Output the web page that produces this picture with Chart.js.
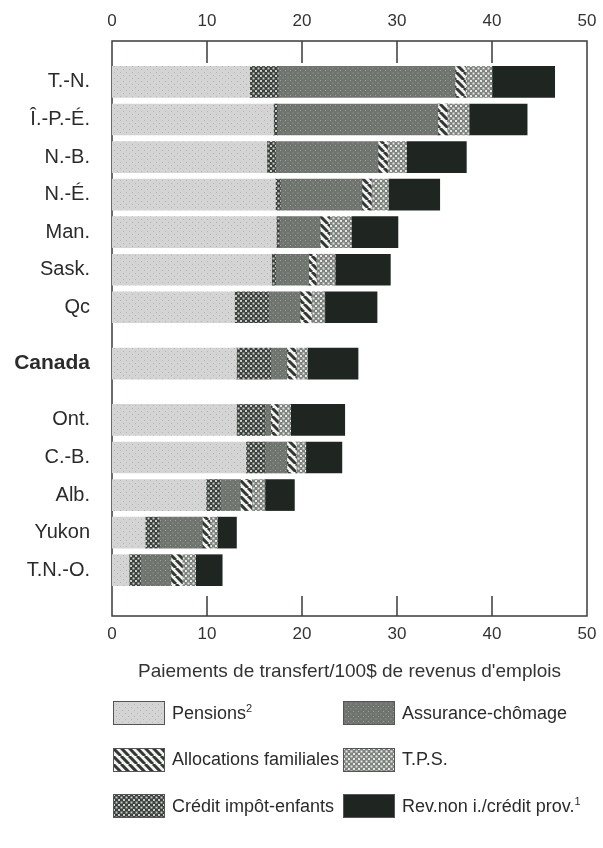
<!DOCTYPE html>
<html>
<head>
<meta charset="utf-8">
<script src="https://cdn.jsdelivr.net/npm/chart.js@4/dist/chart.umd.min.js"></script>
<style>
  body { margin: 0; background: #fff; font-family: "Liberation Sans", Arial, sans-serif; color: #2b2b2b; }
  #wrap { position: relative; width: 603px; height: 848px; }
  #box { position: absolute; left: 0; top: 0; width: 603px; height: 690px; }
  #legend {
    position: absolute; left: 113px; top: 690px;
    display: grid; grid-auto-flow: column;
    grid-template-columns: 230px 260px; grid-template-rows: repeat(3, 46.5px);
    font-size: 18px; white-space: nowrap;
  }
  .item { display: flex; align-items: center; }
  .item canvas { width: 52px; height: 24px; margin-right: 7px; }
  sup { font-size: 11px; vertical-align: 7px; }
</style>
</head>
<body>
<div id="wrap">
  <div id="box"><canvas id="chart"></canvas></div>
  <div id="legend"></div>
</div>
<script>
// regions, top to bottom (Canada is set apart by a half-row gap on each side)
const regions = ["T.-N.", "Î.-P.-É.", "N.-B.", "N.-É.", "Man.", "Sask.", "Qc", "Canada", "Ont.", "C.-B.", "Alb.", "Yukon", "T.N.-O."];

// transfer payments per 100$ of employment income
const pensions     = [14.5, 17.0, 16.3, 17.2, 17.3, 16.8, 12.9, 13.1, 13.1, 14.1, 9.9, 3.5, 1.8];
const creditEnf    = [3.0, 0.4, 0.9, 0.5, 0.3, 0.4, 3.6, 3.6, 3.0, 2.0, 1.5, 1.5, 1.2];
const assuranceCh  = [18.6, 16.9, 10.8, 8.6, 4.3, 3.5, 3.3, 1.7, 0.6, 2.3, 2.1, 4.5, 3.2];
const allocFam     = [1.1, 1.0, 1.0, 1.0, 1.0, 0.8, 1.2, 1.0, 0.8, 1.0, 1.2, 0.8, 1.2];
const tps          = [2.8, 2.3, 2.0, 1.8, 2.3, 2.0, 1.4, 1.2, 1.3, 1.0, 1.4, 0.8, 1.4];
const revNonImp    = [6.6, 6.1, 6.3, 5.4, 4.9, 5.8, 5.5, 5.3, 5.7, 3.8, 3.1, 2.0, 2.8];

const xTicks = [0, 10, 20, 30, 40, 50];
const legendOrder = [0, 3, 1, 2, 4, 5];

// row positions: one unit per region, half a unit extra before and after Canada
const canadaIdx = regions.indexOf("Canada");
const rowPos = regions.map((r, i) => i + (i >= canadaIdx ? 0.5 : 0) + (i > canadaIdx ? 0.5 : 0));

function pattern(bg, draw, size) {
  const c = document.createElement("canvas");
  c.width = c.height = size || 6;
  const g = c.getContext("2d");
  g.fillStyle = bg;
  g.fillRect(0, 0, c.width, c.height);
  if (draw) draw(g, c.width);
  return g.createPattern(c, "repeat");
}
function dots(color, r) {
  return (g, s) => {
    g.fillStyle = color;
    g.fillRect(0, 0, r, r);
    g.fillRect(s / 2, s / 2, r, r);
  };
}
function stripes(color) {
  return (g, s) => {
    g.strokeStyle = color;
    g.lineWidth = 3;
    g.beginPath();
    for (let k = -s; k <= s; k += s) {
      g.moveTo(k, 0);
      g.lineTo(k + s, s);
    }
    g.stroke();
  };
}

const series = [
  { label: "Pensions", note: "2", data: pensions, fill: pattern("#d3d4d3", dots("#b4b6b4", 1), 6) },
  { label: "Crédit impôt-enfants", data: creditEnf, fill: pattern("#3c413d", dots("#c9cdc9", 2), 5) },
  { label: "Assurance-chômage", data: assuranceCh, fill: pattern("#6f746f", dots("#9da29d", 1), 5) },
  { label: "Allocations familiales", data: allocFam, fill: pattern("#f2f2f2", stripes("#323732"), 8) },
  { label: "T.P.S.", data: tps, fill: pattern("#7e837e", dots("#e6e8e6", 2), 5) },
  { label: "Rev.non i./crédit prov.", note: "1", data: revNonImp, fill: "#1f2622" },
];

const framePlugin = {
  id: "frame",
  beforeDatasetsDraw(chart) {
    const { ctx, chartArea: a, scales } = chart;
    ctx.save();
    ctx.strokeStyle = "#3a3d3a";
    ctx.lineWidth = 1.5;
    ctx.strokeRect(a.left, a.top, a.right - a.left, a.bottom - a.top);
    ctx.beginPath();
    xTicks.slice(1, -1).forEach(v => {
      const x = scales.x.getPixelForValue(v);
      ctx.moveTo(x, a.top); ctx.lineTo(x, a.top + 22);
      ctx.moveTo(x, a.bottom); ctx.lineTo(x, a.bottom - 20);
    });
    ctx.stroke();
    ctx.restore();
  }
};

const font = "'Liberation Sans', Arial, sans-serif";

const chart = new Chart(document.getElementById("chart"), {
  type: "bar",
  data: {
    datasets: series.map(s => ({
      label: s.label,
      data: s.data.map((v, i) => ({ x: v, y: rowPos[i] })),
      backgroundColor: s.fill,
      borderWidth: 0,
      barThickness: 31,
    })),
  },
  options: {
    indexAxis: "y",
    responsive: true,
    maintainAspectRatio: false,
    animation: false,
    layout: { padding: { left: 0, right: 16, top: 0, bottom: 0 } },
    plugins: { legend: { display: false }, tooltip: { enabled: false } },
    scales: {
      x: {
        type: "linear", position: "bottom", stacked: true, min: 0, max: 50,
        afterBuildTicks: s => { s.ticks = xTicks.map(v => ({ value: v })); },
        grid: { display: false, drawTicks: false },
        border: { display: false },
        ticks: { padding: 8, color: "#333", font: { family: font, size: 17 } },
        title: {
          display: true, text: "Paiements de transfert/100$ de revenus d'emplois",
          color: "#333", font: { family: font, size: 19 }, padding: { top: 12, bottom: 7 },
        },
        afterFit: s => { s.height = 74; s.paddingLeft = 0; s.paddingRight = 0; },
      },
      x2: {
        type: "linear", position: "top", min: 0, max: 50,
        afterBuildTicks: s => { s.ticks = xTicks.map(v => ({ value: v })); },
        grid: { display: false, drawTicks: false },
        border: { display: false },
        ticks: { padding: 9, color: "#333", font: { family: font, size: 17 } },
        afterFit: s => { s.height = 41; s.paddingLeft = 0; s.paddingRight = 0; },
      },
      y: {
        type: "linear", stacked: true, reverse: true, offset: false, min: -1.09, max: 14.22,
        afterBuildTicks: s => { s.ticks = rowPos.map(v => ({ value: v })); },
        grid: { display: false, drawTicks: false, offset: false },
        border: { display: false },
        ticks: {
          padding: 22,
          color: "#2b2b2b",
          callback: (v, i) => regions[i],
          font: c => c.index === canadaIdx
            ? { family: font, size: 21, weight: "bold" }
            : { family: font, size: 20, weight: "normal" },
        },
        afterFit: s => { s.width = 112; },
      },
    },
  },
  plugins: [framePlugin],
});

// legend, two columns
const legend = document.getElementById("legend");
legendOrder.forEach(k => {
  const s = series[k];
  const item = document.createElement("div");
  item.className = "item";
  const sw = document.createElement("canvas");
  sw.width = 52; sw.height = 24;
  const g = sw.getContext("2d");
  g.fillStyle = s.fill;
  g.fillRect(0, 0, 52, 24);
  g.strokeStyle = "#555";
  g.strokeRect(0.5, 0.5, 51, 23);
  item.appendChild(sw);
  const t = document.createElement("span");
  t.textContent = s.label;
  if (s.note) {
    const sup = document.createElement("sup");
    sup.textContent = s.note;
    t.appendChild(sup);
  }
  item.appendChild(t);
  legend.appendChild(item);
});
</script>
</body>
</html>
